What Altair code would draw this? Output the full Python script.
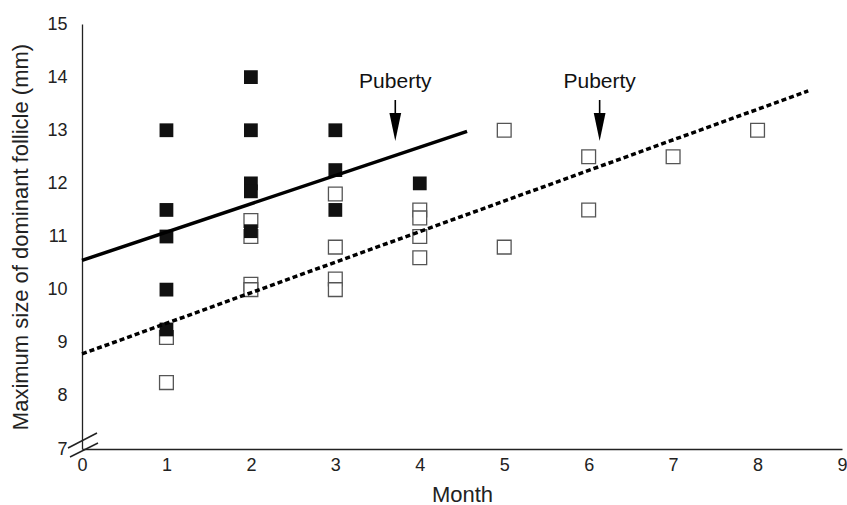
import altair as alt
import pandas as pd

# Data
filled_month = [1, 1, 1, 1, 1, 2, 2, 2, 2, 2, 3, 3, 3, 4]
filled_size = [13.0, 11.5, 11.0, 10.0, 9.25, 14.0, 13.0, 12.0, 11.85, 11.1, 13.0, 12.25, 11.5, 12.0]

open_month = [1, 1, 2, 2, 2, 2, 3, 3, 3, 3, 4, 4, 4, 4, 5, 5, 6, 6, 7, 8]
open_size = [9.1, 8.25, 11.3, 11.0, 10.1, 10.0, 11.8, 10.8, 10.2, 10.0,
             11.5, 11.35, 11.0, 10.6, 13.0, 10.8, 12.5, 11.5, 12.5, 13.0]

solid_x = [0, 4.56]
solid_y = [10.55, 12.98]
dotted_x = [0, 8.6]
dotted_y = [8.79, 13.74]

puberty_x = [3.71, 6.13]
puberty_label = ["Puberty", "Puberty"]

x_ticks = list(range(0, 10))
y_ticks = list(range(7, 16))

FONT = "Liberation Sans"

filled_df = pd.DataFrame({"month": filled_month, "size": filled_size})
open_df = pd.DataFrame({"month": open_month, "size": open_size})
solid_df = pd.DataFrame({"month": solid_x, "size": solid_y})
dotted_df = pd.DataFrame({"month": dotted_x, "size": dotted_y})
pub_df = pd.DataFrame({"month": puberty_x, "label": puberty_label,
                       "ty": [13.9, 13.9], "a1": [13.57, 13.57], "a2": [13.25, 13.25],
                       "tip": [13.06, 13.06]})

xs = alt.Scale(domain=[0, 9], nice=False)
ys = alt.Scale(domain=[7, 15], nice=False)

x_axis = alt.Axis(values=x_ticks, title="Month", format="d", labelPadding=7, titlePadding=10)
y_axis = alt.Axis(values=y_ticks, title="Maximum size of dominant follicle (mm)", format="d",
                  labelPadding=15, titlePadding=14)

X = alt.X("month:Q", scale=xs, axis=x_axis)
Y = alt.Y("size:Q", scale=ys, axis=y_axis)

open_pts = alt.Chart(open_df).mark_point(shape="square", size=190, filled=True,
                                         fill="white", stroke="#555", strokeWidth=1.3,
                                         opacity=1).encode(x=X, y=Y)
filled_pts = alt.Chart(filled_df).mark_point(shape="square", size=190, filled=True,
                                             color="#111", opacity=1).encode(x=X, y=Y)

solid_line = alt.Chart(solid_df).mark_line(color="#000", strokeWidth=3.5).encode(x=X, y=Y)
dotted_line = alt.Chart(dotted_df).mark_line(color="#000", strokeWidth=3.5,
                                             strokeDash=[5, 3]).encode(x=X, y=Y)

pub_text = alt.Chart(pub_df).mark_text(font=FONT, fontSize=21, color="#111",
                                       baseline="middle").encode(
    x=X, y=alt.Y("ty:Q", scale=ys, axis=y_axis), text="label:N")
pub_rule = alt.Chart(pub_df).mark_rule(color="#000", strokeWidth=1.6).encode(
    x=X, y=alt.Y("a1:Q", scale=ys, axis=y_axis), y2="a2:Q")
pub_head = alt.Chart(pub_df).mark_point(shape="M-0.42,-1L0.42,-1L0,1Z", size=784,
                                        filled=True, color="#000", opacity=1).encode(
    x=X, y=alt.Y("tip:Q", scale=ys, axis=y_axis))

# axis break marks
brk1 = alt.Chart(pub_df.head(1)).mark_rule(color="#222", strokeWidth=1.5).encode(
    x=alt.value(-14), x2=alt.value(15), y=alt.value(424), y2=alt.value(409))
brk2 = alt.Chart(pub_df.head(1)).mark_rule(color="#222", strokeWidth=1.5).encode(
    x=alt.value(-12), x2=alt.value(16), y=alt.value(433), y2=alt.value(419))

chart = alt.layer(open_pts, filled_pts, solid_line, dotted_line, pub_rule, pub_head,
                  pub_text, brk1, brk2).properties(
    width=760, height=425,
    autosize=alt.AutoSizeParams(type="none"),
    padding={"left": 82, "top": 24, "right": 5, "bottom": 56},
    background="white",
).configure_view(stroke=None).configure_axis(
    grid=False, ticks=False, domainColor="#222", domainWidth=1.3,
    labelFontSize=18, labelFont=FONT, labelColor="#222",
    titleFontSize=22, titleFont=FONT, titleFontWeight="normal", titleColor="#222",
    labelFlush=False,
)

chart.save("out.html", embed_options={"renderer": "svg", "actions": False})
